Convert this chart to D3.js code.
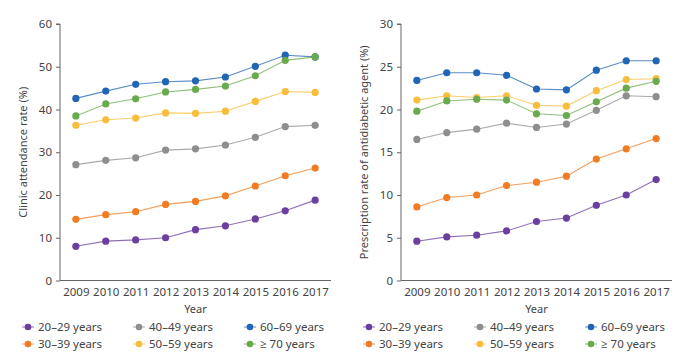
<!DOCTYPE html>
<html>
<head>
<meta charset="utf-8">
<script src="https://cdn.jsdelivr.net/npm/d3@7"></script>
<style>
  body { margin: 0; background: #fff; }
  text { font-family: "Noto Sans", "Open Sans", sans-serif; fill: #444; }
</style>
</head>
<body>
<svg width="680" height="361"></svg>
<script>
let years = [2009, 2010, 2011, 2012, 2013, 2014, 2015, 2016, 2017]
let groups = ["20–29 years", "30–39 years", "40–49 years", "50–59 years", "60–69 years", "≥ 70 years"]
let colors = ["#6a3fa0", "#f27c23", "#8e8e8e", "#f9bd3c", "#2066b5", "#6aaa4e"]

// clinic attendance rate (%)
let clinic20 = [8.0, 9.2, 9.5, 10.0, 11.9, 12.8, 14.4, 16.3, 18.8]
let clinic30 = [14.3, 15.4, 16.1, 17.8, 18.5, 19.8, 22.1, 24.5, 26.3]
let clinic40 = [27.1, 28.1, 28.7, 30.5, 30.8, 31.7, 33.5, 36.0, 36.3]
let clinic50 = [36.3, 37.6, 38.0, 39.2, 39.1, 39.6, 41.9, 44.2, 44.0]
let clinic60 = [42.6, 44.3, 45.9, 46.5, 46.7, 47.6, 50.1, 52.7, 52.3]
let clinic70 = [38.5, 41.3, 42.5, 44.1, 44.7, 45.5, 47.9, 51.5, 52.3]

// prescription rate of antidiabetic agent (%)
let presc20 = [4.6, 5.1, 5.3, 5.8, 6.9, 7.3, 8.8, 10.0, 11.8]
let presc30 = [8.6, 9.7, 10.0, 11.1, 11.5, 12.2, 14.2, 15.4, 16.6]
let presc40 = [16.5, 17.3, 17.7, 18.4, 17.9, 18.3, 19.9, 21.6, 21.5]
let presc50 = [21.1, 21.6, 21.4, 21.6, 20.5, 20.4, 22.2, 23.5, 23.6]
let presc60 = [23.4, 24.3, 24.3, 24.0, 22.4, 22.3, 24.6, 25.7, 25.7]
let presc70 = [19.8, 21.0, 21.2, 21.1, 19.5, 19.3, 20.9, 22.5, 23.3]

let clinicTicks = [0, 10, 20, 30, 40, 50, 60]
let prescTicks = [0, 5, 10, 15, 20, 25, 30]

let svg = d3.select('svg')

function drawPanel(left, series, ticks, yMax, title) {
    let x = d3.scalePoint().domain(years).range([left, left + 271]).padding(0.53)
    let y = d3.scaleLinear().domain([0, yMax]).range([280.5, 24])

    let g = svg.append('g')

    // y axis
    let ya = g.append('g')
        .attr('transform', `translate(${left},0)`)
        .call(d3.axisLeft(y).tickValues(ticks).tickSize(4).tickPadding(4))
    ya.select('.domain').attr('stroke', '#666').attr('d', `M-4,${y(yMax)}H0V${y(0)}`)
    ya.selectAll('.tick line').attr('stroke', '#666')
    ya.selectAll('.tick text').attr('font-size', 11.5).style('fill', '#444')

    // x axis
    let xa = g.append('g')
        .attr('transform', `translate(0,${y(0)})`)
        .call(d3.axisBottom(x).tickSize(0).tickPadding(7))
    xa.select('.domain').attr('stroke', '#666').attr('d', `M${left},0H${left + 271}`)
    xa.selectAll('.tick text').attr('font-size', 11.5).style('fill', '#444')

    g.append('text')
        .attr('x', x(2013)).attr('y', 313)
        .attr('text-anchor', 'middle')
        .attr('font-size', 11)
        .text('Year')

    g.append('text')
        .attr('transform', `translate(${left - 33},${(y(0) + y(yMax)) / 2}) rotate(-90)`)
        .attr('text-anchor', 'middle')
        .attr('font-size', 11)
        .text(title)

    let line = d3.line().x((d, i) => x(years[i])).y(d => y(d))

    series.forEach((s, k) => {
        g.append('path')
            .attr('d', line(s))
            .attr('fill', 'none')
            .attr('stroke', colors[k])
            .attr('stroke-opacity', 0.75)
            .attr('stroke-width', 1.1)
        g.selectAll(null)
            .data(s)
            .enter()
            .append('circle')
            .attr('cx', (d, i) => x(years[i]))
            .attr('cy', d => y(d))
            .attr('r', 3.6)
            .attr('fill', colors[k])
    })

    // legend: 3 columns, 2 rows
    let order = [0, 2, 4, 1, 3, 5]
    order.forEach((k, j) => {
        let col = j % 3, row = Math.floor(j / 3)
        let lx = left - 38 + col * 111
        let ly = 327 + row * 17
        let lg = g.append('g').attr('transform', `translate(${lx},${ly})`)
        lg.append('line').attr('x1', 0).attr('x2', 12).attr('stroke', colors[k]).attr('stroke-opacity', 0.75)
        lg.append('circle').attr('cx', 6).attr('r', 3.3).attr('fill', colors[k])
        lg.append('text').attr('x', 16).attr('dy', '0.35em').attr('font-size', 11.5).text(groups[k])
    })
}

drawPanel(60, [clinic20, clinic30, clinic40, clinic50, clinic60, clinic70], clinicTicks, 60, 'Clinic attendance rate (%)')
drawPanel(401, [presc20, presc30, presc40, presc50, presc60, presc70], prescTicks, 30, 'Prescription rate of antidiabetic agent (%)')
</script>
</body>
</html>
